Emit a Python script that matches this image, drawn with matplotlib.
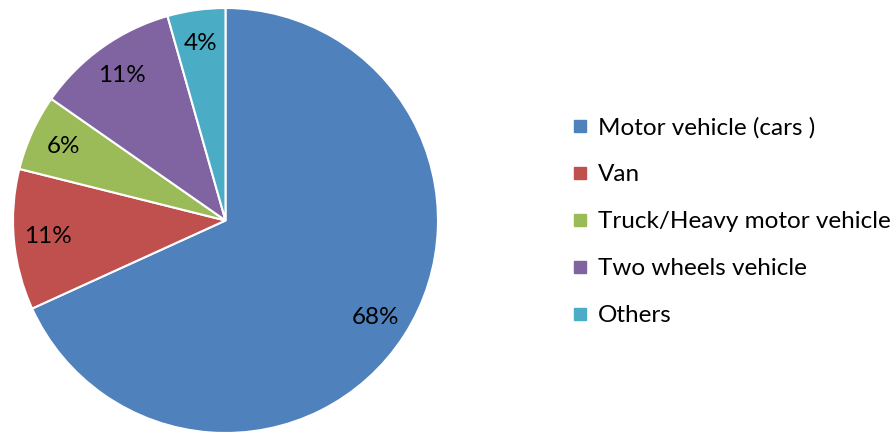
import matplotlib
matplotlib.use("Agg")
from matplotlib import pyplot as plt
from matplotlib.lines import Line2D

plt.rcParams['font.family'] = ['Lato', 'DejaVu Sans']

# data (shares)
categories = ['Motor vehicle (cars )', 'Van', 'Truck/Heavy motor vehicle', 'Two wheels vehicle', 'Others']
shares = [68.2, 10.7, 5.8, 10.9, 4.4]
colors = ['#4F81BD', '#C0504D', '#9BBB59', '#8064A2', '#4BACC6']

fig = plt.figure(figsize=(8.93, 4.36), dpi=100)
ax = fig.add_axes([13/893, 3/436, 425/893, 425/436])

wedges, texts, autotexts = ax.pie(shares, colors=colors, startangle=90, counterclock=False,
                                  autopct='%.0f%%', pctdistance=0.84, radius=1,
                                  wedgeprops=dict(edgecolor='white', linewidth=1.5),
                                  textprops=dict(fontsize=17.5, color='black'))
ax.set_xlim(-1.0, 1.0)
ax.set_ylim(-1.0, 1.0)
ax.set_aspect('equal')

#legend with small square markers
handles = [Line2D([], [], marker='s', linestyle='', markersize=8, color=c) for c in colors]
fig.legend(handles, categories, loc='center left', bbox_to_anchor=(570/893, 1 - 221.5/436),
           frameon=False, fontsize=17.5, labelspacing=1.07, handlelength=0.8,
           handletextpad=0.35, borderaxespad=0, borderpad=0)

fig.savefig('out.png', dpi=100)
